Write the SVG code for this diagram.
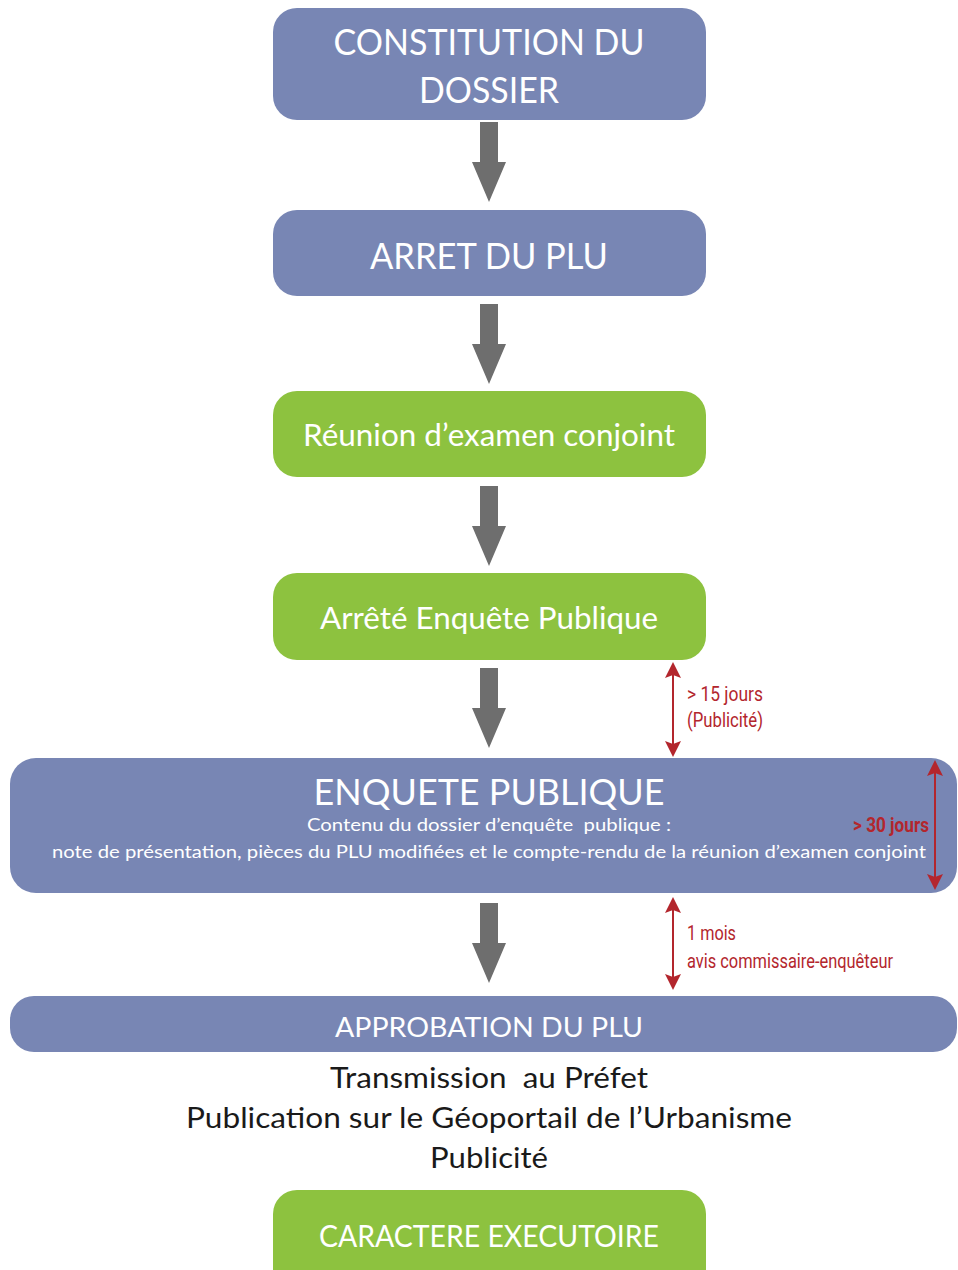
<svg xmlns="http://www.w3.org/2000/svg" width="958" height="1270" viewBox="0 0 958 1270">
<style>
.blue{fill:#7886B4}
.green{fill:#8DC23F}
text{white-space:pre}
.t{font-family:Lato,"Open Sans","Liberation Sans",sans-serif;fill:#ffffff;text-anchor:middle}
.k{font-family:Lato,"Open Sans","Liberation Sans",sans-serif;fill:#1a1a1a;text-anchor:middle}
.r{font-family:Roboto,"Liberation Sans",sans-serif;fill:#B3262D}
.ga{fill:#6E6E6E}
.rl{stroke:#B3262D;stroke-width:2;fill:none}
.rh{fill:#B3262D}
</style>
<defs>
<path id="garrow" d="M-9,0 H9 V40 H17 L0,80 L-17,40 H-9 Z"/>
</defs>
<rect width="958" height="1270" fill="#ffffff"/>

<g id="n1">
<rect class="blue" x="273" y="8" width="433" height="112" rx="24"/>
<text class="t" x="489" y="55" font-size="37" textLength="311" lengthAdjust="spacingAndGlyphs">CONSTITUTION DU</text>
<text class="t" x="489" y="103" font-size="37" textLength="140" lengthAdjust="spacingAndGlyphs">DOSSIER</text>
</g>
<g id="n2">
<rect class="blue" x="273" y="210" width="433" height="86" rx="24"/>
<text class="t" x="489" y="269" font-size="37" textLength="238" lengthAdjust="spacingAndGlyphs">ARRET DU PLU</text>
</g>
<g id="n3">
<rect class="green" x="273" y="391" width="433" height="86" rx="24"/>
<text class="t" x="489" y="446" font-size="30" textLength="372" lengthAdjust="spacingAndGlyphs">Réunion d’examen conjoint</text>
</g>
<g id="n4">
<rect class="green" x="273" y="573" width="433" height="87" rx="24"/>
<text class="t" x="489" y="629" font-size="30" textLength="338" lengthAdjust="spacingAndGlyphs">Arrêté Enquête Publique</text>
</g>
<g id="n5">
<rect class="blue" x="10" y="758" width="947" height="135" rx="26"/>
<text class="t" x="489" y="805" font-size="37" textLength="351" lengthAdjust="spacingAndGlyphs">ENQUETE PUBLIQUE</text>
<text class="t" x="489" y="831" font-size="18" textLength="364" lengthAdjust="spacingAndGlyphs">Contenu du dossier d’enquête  publique :</text>
<text class="t" x="489" y="858" font-size="18" textLength="874" lengthAdjust="spacingAndGlyphs">note de présentation, pièces du PLU modifiées et le compte-rendu de la réunion d’examen conjoint</text>
</g>
<g id="n6">
<rect class="blue" x="10" y="996" width="947" height="56" rx="24"/>
<text class="t" x="489" y="1037" font-size="27" textLength="308" lengthAdjust="spacingAndGlyphs">APPROBATION DU PLU</text>
</g>
<g id="n7">
<text class="k" x="489" y="1088" font-size="29" textLength="318" lengthAdjust="spacingAndGlyphs">Transmission  au Préfet</text>
<text class="k" x="489" y="1128" font-size="29" textLength="606" lengthAdjust="spacingAndGlyphs">Publication sur le Géoportail de l’Urbanisme</text>
<text class="k" x="489" y="1168" font-size="29" textLength="118" lengthAdjust="spacingAndGlyphs">Publicité</text>
</g>
<g id="n8">
<rect class="green" x="273" y="1190" width="433" height="110" rx="24"/>
<text class="t" x="489" y="1247" font-size="30" textLength="340" lengthAdjust="spacingAndGlyphs">CARACTERE EXECUTOIRE</text>
</g>

<g id="connectors">
<use href="#garrow" class="ga" x="489" y="122"/>
<use href="#garrow" class="ga" x="489" y="304"/>
<use href="#garrow" class="ga" x="489" y="486"/>
<use href="#garrow" class="ga" x="489" y="668"/>
<use href="#garrow" class="ga" x="489" y="903"/>

<line class="rl" x1="673" y1="672" x2="673" y2="747"/>
<path class="rh" d="M673,662 L681,678 L673,675 L665,678 Z"/>
<path class="rh" d="M673,757 L681,741 L673,744 L665,741 Z"/>

<line class="rl" x1="935" y1="770" x2="935" y2="880"/>
<path class="rh" d="M935,760 L943,776 L935,773 L927,776 Z"/>
<path class="rh" d="M935,890 L943,874 L935,877 L927,874 Z"/>

<line class="rl" x1="673" y1="907" x2="673" y2="980"/>
<path class="rh" d="M673,897 L681,913 L673,910 L665,913 Z"/>
<path class="rh" d="M673,990 L681,974 L673,977 L665,974 Z"/>
</g>

<g id="labels">
<text class="r" x="687" y="701" font-size="21" textLength="76" lengthAdjust="spacingAndGlyphs">&gt; 15 jours</text>
<text class="r" x="687" y="727" font-size="21" textLength="76" lengthAdjust="spacingAndGlyphs">(Publicité)</text>
<text class="r" x="853" y="832" font-size="20" font-weight="bold" textLength="76" lengthAdjust="spacingAndGlyphs">&gt; 30 jours</text>
<text class="r" x="687" y="940" font-size="21" textLength="49" lengthAdjust="spacingAndGlyphs">1 mois</text>
<text class="r" x="687" y="968" font-size="20" textLength="206" lengthAdjust="spacingAndGlyphs">avis commissaire-enquêteur</text>
</g>
</svg>
